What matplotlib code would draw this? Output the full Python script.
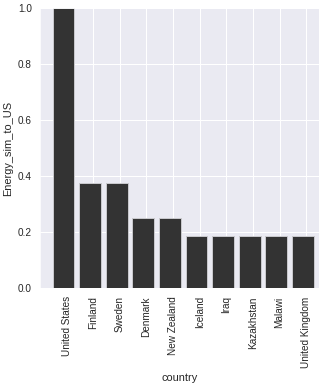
import numpy as np
import matplotlib
matplotlib.use("Agg")
import matplotlib.pyplot as plt
import seaborn as sns

countries = ["United States", "Finland", "Sweden", "Denmark", "New Zealand",
             "Iceland", "Iraq", "Kazakhstan", "Malawi", "United Kingdom"]
energy_sim = [1.0, 0.375, 0.375, 0.25, 0.25, 0.1875, 0.1875, 0.1875, 0.1875, 0.1875]

sns.set_style("darkgrid")
plt.rcParams['font.family'] = ['Liberation Sans', 'DejaVu Sans']

fig = plt.figure(figsize=(325 / 72, 388 / 72), dpi=72)
ax = fig.add_axes([40 / 325, 1 - 288.3 / 388, 279 / 325, 280 / 388])

x = np.arange(len(countries))
ax.bar(x - 0.12, energy_sim, width=0.82, color="#333333",
       edgecolor="#c8c8cc", linewidth=1, zorder=2)

ax.set_xticks(x)
ax.set_xticklabels(countries, rotation=90)
ax.set_xlim(-1.0, 9.48)
ax.set_ylim(0, 1.0)
ax.set_yticks([0.0, 0.2, 0.4, 0.6, 0.8, 1.0])
ax.tick_params(axis="both", length=0, pad=8, labelsize=10, colors="#262626")
ax.set_xlabel("country", fontsize=11, color="#262626", labelpad=5)
ax.set_ylabel("Energy_sim_to_US", fontsize=11, color="#262626", labelpad=5)
ax.grid(True, color="white", linewidth=1)

fig.savefig("out.png", dpi=72)
